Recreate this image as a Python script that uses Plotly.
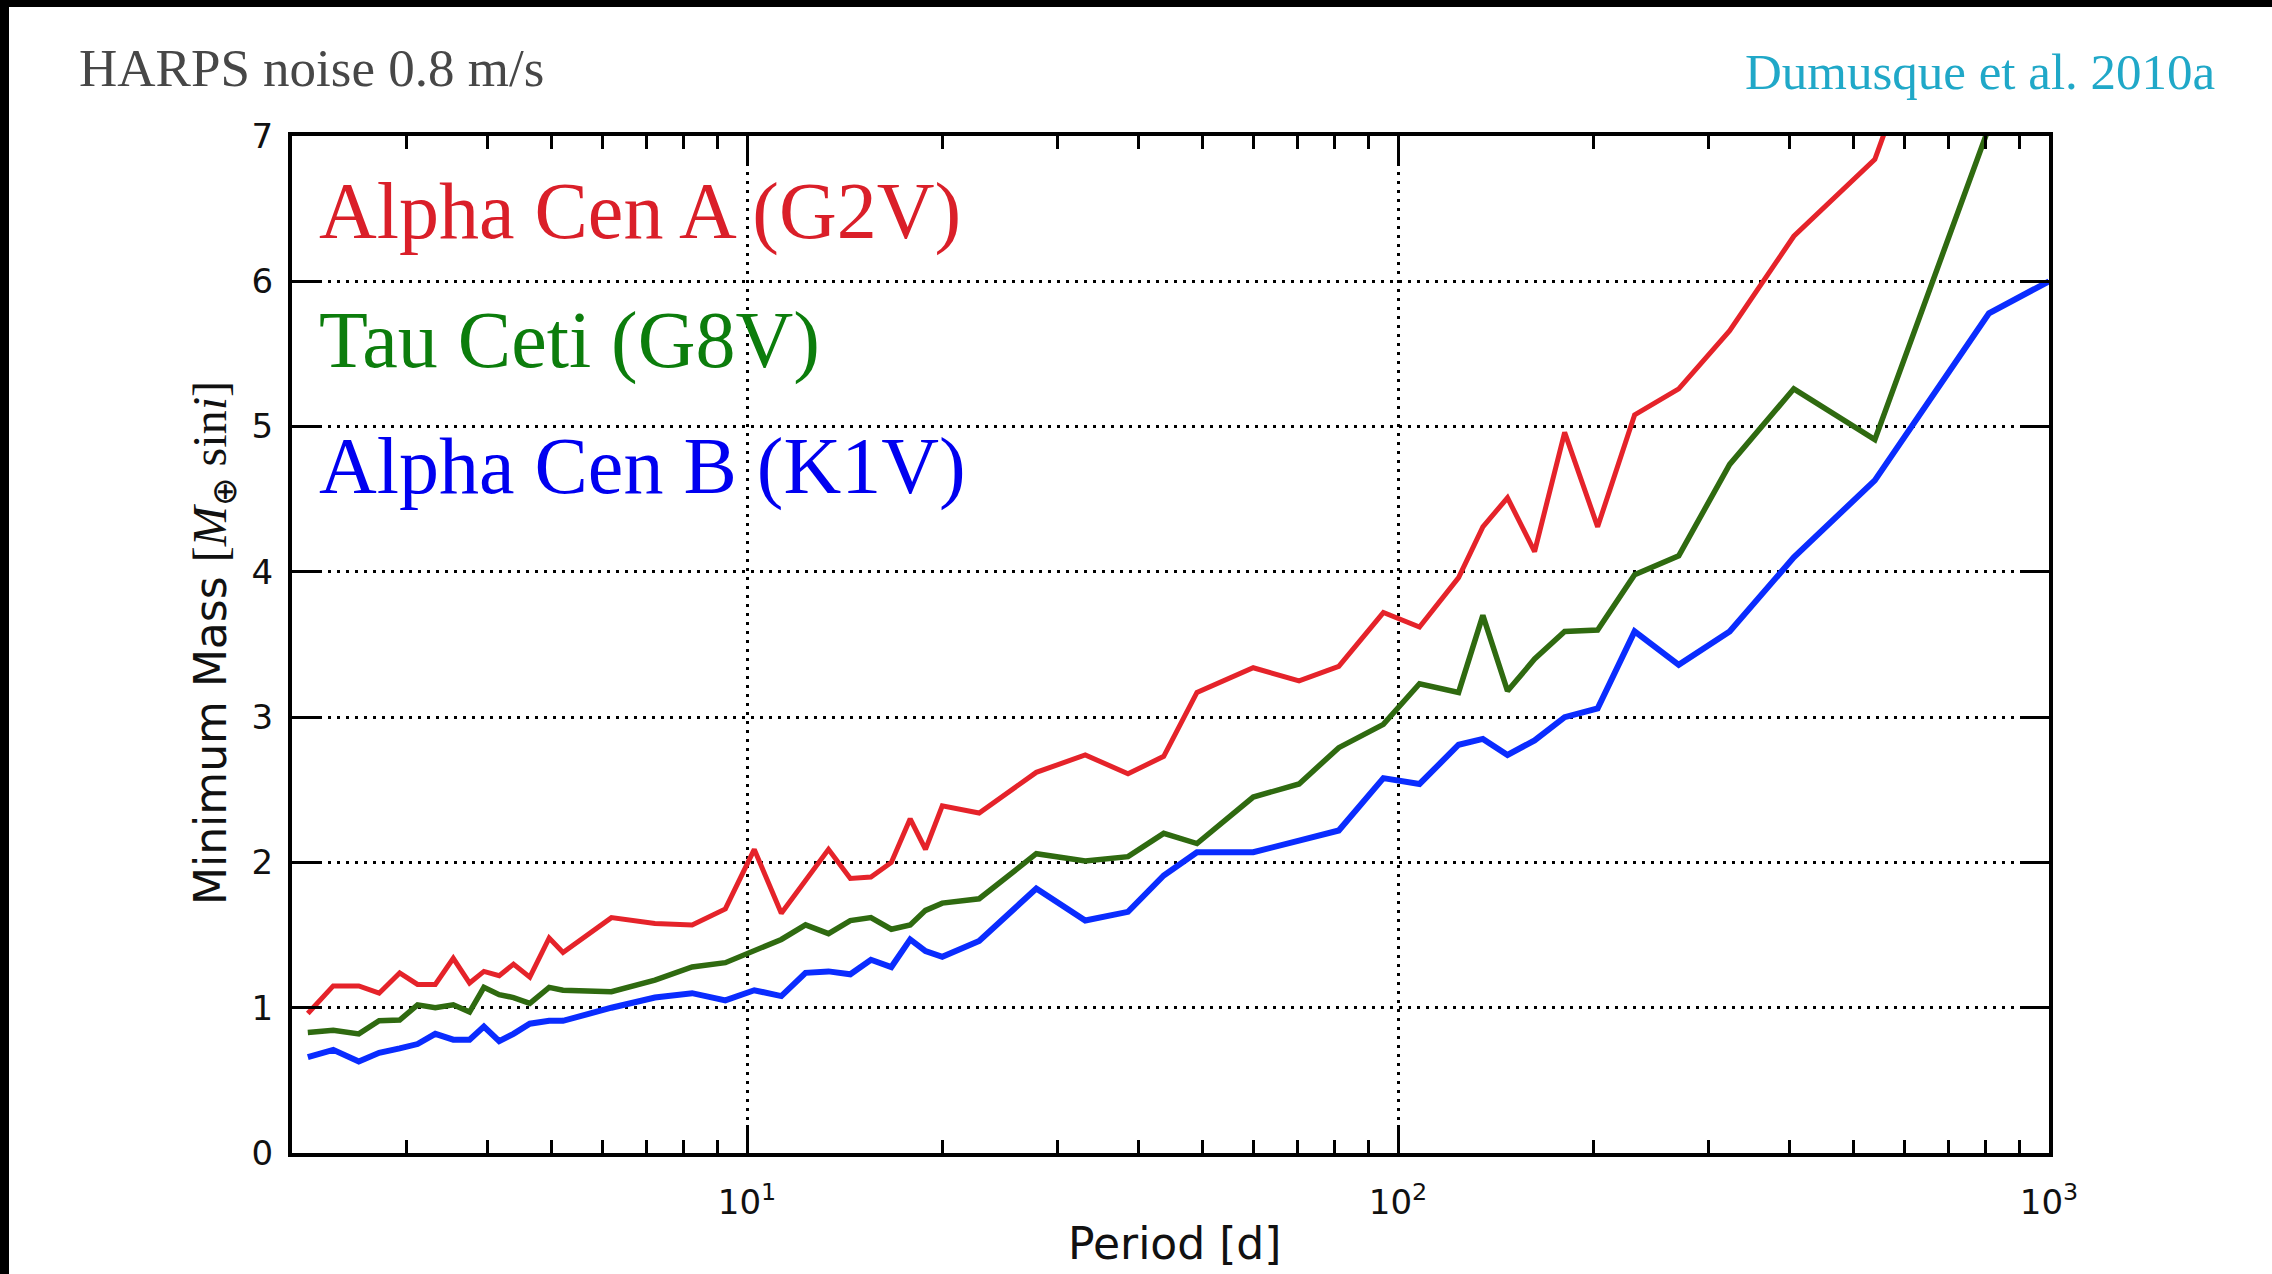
import plotly.graph_objects as go

# ---------------- data ----------------
period_d = [2.115, 2.314, 2.533, 2.722, 2.927, 3.118, 3.320, 3.538, 3.748, 3.943,
            4.162, 4.378, 4.638, 4.967, 5.216, 6.190, 7.220, 8.235, 9.262, 10.26,
            11.29, 12.30, 13.34, 14.41, 15.50, 16.66, 17.81, 18.80, 19.95, 22.73,
            27.82, 33.08, 38.48, 43.66, 49.11, 59.92, 70.47, 81.10, 94.95, 107.9,
            123.9, 135.0, 147.3, 162.1, 180.3, 202.6, 230.9, 269.9, 323.2, 405.5,
            540.1, 808.6, 1000.0]

alpha_cen_a = [0.96, 1.15, 1.15, 1.10, 1.24, 1.16, 1.16, 1.34, 1.17, 1.25,
               1.22, 1.30, 1.21, 1.48, 1.38, 1.62, 1.58, 1.57, 1.68, 2.09,
               1.65, 1.87, 2.09, 1.89, 1.90, 2.00, 2.30, 2.09, 2.39, 2.34,
               2.62, 2.74, 2.61, 2.73, 3.17, 3.34, 3.25, 3.35, 3.72, 3.62,
               3.96, 4.31, 4.51, 4.14, 4.96, 4.31, 5.08, 5.26, 5.66, 6.31,
               6.84, 9.0, 10.0]

tau_ceti = [0.83, 0.845, 0.82, 0.91, 0.915, 1.02, 1.00, 1.02, 0.97, 1.14,
            1.09, 1.07, 1.03, 1.14, 1.12, 1.11, 1.19, 1.28, 1.31, 1.39,
            1.47, 1.57, 1.51, 1.60, 1.62, 1.54, 1.57, 1.67, 1.72, 1.75,
            2.06, 2.01, 2.04, 2.20, 2.13, 2.45, 2.54, 2.79, 2.95, 3.23,
            3.17, 3.70, 3.18, 3.40, 3.59, 3.60, 3.98, 4.11, 4.74, 5.26,
            4.91, 7.06, 8.2]

alpha_cen_b = [0.66, 0.71, 0.63, 0.69, 0.72, 0.75, 0.82, 0.78, 0.78, 0.87,
               0.77, 0.82, 0.89, 0.91, 0.91, 1.00, 1.07, 1.10, 1.05, 1.12,
               1.08, 1.24, 1.25, 1.23, 1.33, 1.28, 1.47, 1.39, 1.35, 1.46,
               1.82, 1.60, 1.66, 1.91, 2.07, 2.07, 2.15, 2.22, 2.58, 2.54,
               2.81, 2.85, 2.74, 2.84, 3.00, 3.06, 3.59, 3.36, 3.59, 4.10,
               4.63, 5.78, 6.00]

x_major_ticks = [10, 100, 1000]
x_major_text = ["10<sup>1</sup>", "10<sup>2</sup>", "10<sup>3</sup>"]
x_minor_ticks = [3, 4, 5, 6, 7, 8, 9, 20, 30, 40, 50, 60, 70, 80, 90,
                 200, 300, 400, 500, 600, 700, 800, 900]

series_names = ["Alpha Cen A (G2V)", "Tau Ceti (G8V)", "Alpha Cen B (K1V)"]
line_colors = ["#e5232a", "#2f6a10", "#0a2cff"]
text_colors = ["#da1f29", "#0c7d0c", "#0000f0"]
line_widths = [5, 5.5, 6]

# ---------------- figure ----------------
fig = go.Figure()
for name, ys, col, lw in zip(series_names, [alpha_cen_a, tau_ceti, alpha_cen_b],
                             line_colors, line_widths):
    fig.add_trace(go.Scatter(x=period_d, y=ys, mode="lines", name=name,
                             line=dict(color=col, width=lw), showlegend=False))

W, H = 2272, 1274
L, R, T, B = 292, 223, 136, 121
PW, PH = W - L - R, H - T - B


def px_x(X):
    return (X - L) / PW


def px_y(Y):
    return (H - B - Y) / PH


axis_common = dict(
    showline=True, linecolor="black", linewidth=4, mirror="allticks",
    ticks="inside", ticklen=28, tickwidth=3, tickcolor="black",
    showgrid=True, gridcolor="black", gridwidth=3, griddash="3px,6px",
    zeroline=False,
    tickfont=dict(family="DejaVu Sans", size=34, color="#111111"),
)

fig.update_xaxes(type="log", range=[0.30103, 3.0],
                 tickvals=x_major_ticks, ticktext=x_major_text,
                 minor=dict(tickvals=x_minor_ticks, ticks="inside", ticklen=13,
                            tickwidth=2.5, tickcolor="black", showgrid=False),
                 ticklabelstandoff=16,
                 **axis_common)
fig.update_yaxes(range=[0, 7], dtick=1, tick0=0, ticklabelstandoff=8, **axis_common)

annotations = []
# series labels
label_y = [211, 340, 466]
for name, col, Y in zip(series_names, text_colors, label_y):
    annotations.append(dict(text=name, xref="paper", yref="paper",
                            x=px_x(317), y=px_y(Y), xanchor="left", yanchor="middle",
                            showarrow=False,
                            font=dict(family="Liberation Serif", size=80, color=col)))
# header texts
annotations.append(dict(text="HARPS noise 0.8 m/s", xref="paper", yref="paper",
                        x=px_x(77), y=px_y(68), xanchor="left", yanchor="middle",
                        showarrow=False,
                        font=dict(family="Liberation Serif", size=53, color="#474747")))
annotations.append(dict(text="Dumusque et al. 2010a", xref="paper", yref="paper",
                        x=px_x(2217), y=px_y(72), xanchor="right", yanchor="middle",
                        showarrow=False,
                        font=dict(family="Liberation Serif", size=51, color="#20a8c8")))
# axis titles
annotations.append(dict(text="Period [d]", xref="paper", yref="paper",
                        x=px_x(1174), y=px_y(1243), xanchor="center", yanchor="middle",
                        showarrow=False,
                        font=dict(family="DejaVu Sans", size=44, color="#111111")))
ylab = ("Minimum Mass <span style='font-family:Liberation Serif;font-size:48px'>[<i>M</i>"
        "<sub>⊕</sub> sin<i>i</i>]</span>")
annotations.append(dict(text=ylab, xref="paper", yref="paper", textangle=-90,
                        x=px_x(213), y=px_y(643), xanchor="center", yanchor="middle",
                        showarrow=False,
                        font=dict(family="DejaVu Sans", size=44, color="#111111")))

shapes = [
    dict(type="rect", xref="paper", yref="paper", layer="above",
         x0=px_x(0), x1=px_x(W), y0=px_y(7), y1=px_y(0),
         fillcolor="black", line=dict(width=0)),
    dict(type="rect", xref="paper", yref="paper", layer="above",
         x0=px_x(0), x1=px_x(9), y0=px_y(H), y1=px_y(0),
         fillcolor="black", line=dict(width=0)),
]

fig.update_layout(
    width=W, height=H,
    margin=dict(l=L, r=R, t=T, b=B, pad=0),
    paper_bgcolor="white", plot_bgcolor="white",
    annotations=annotations, shapes=shapes,
)

fig.write_html("out.html")
